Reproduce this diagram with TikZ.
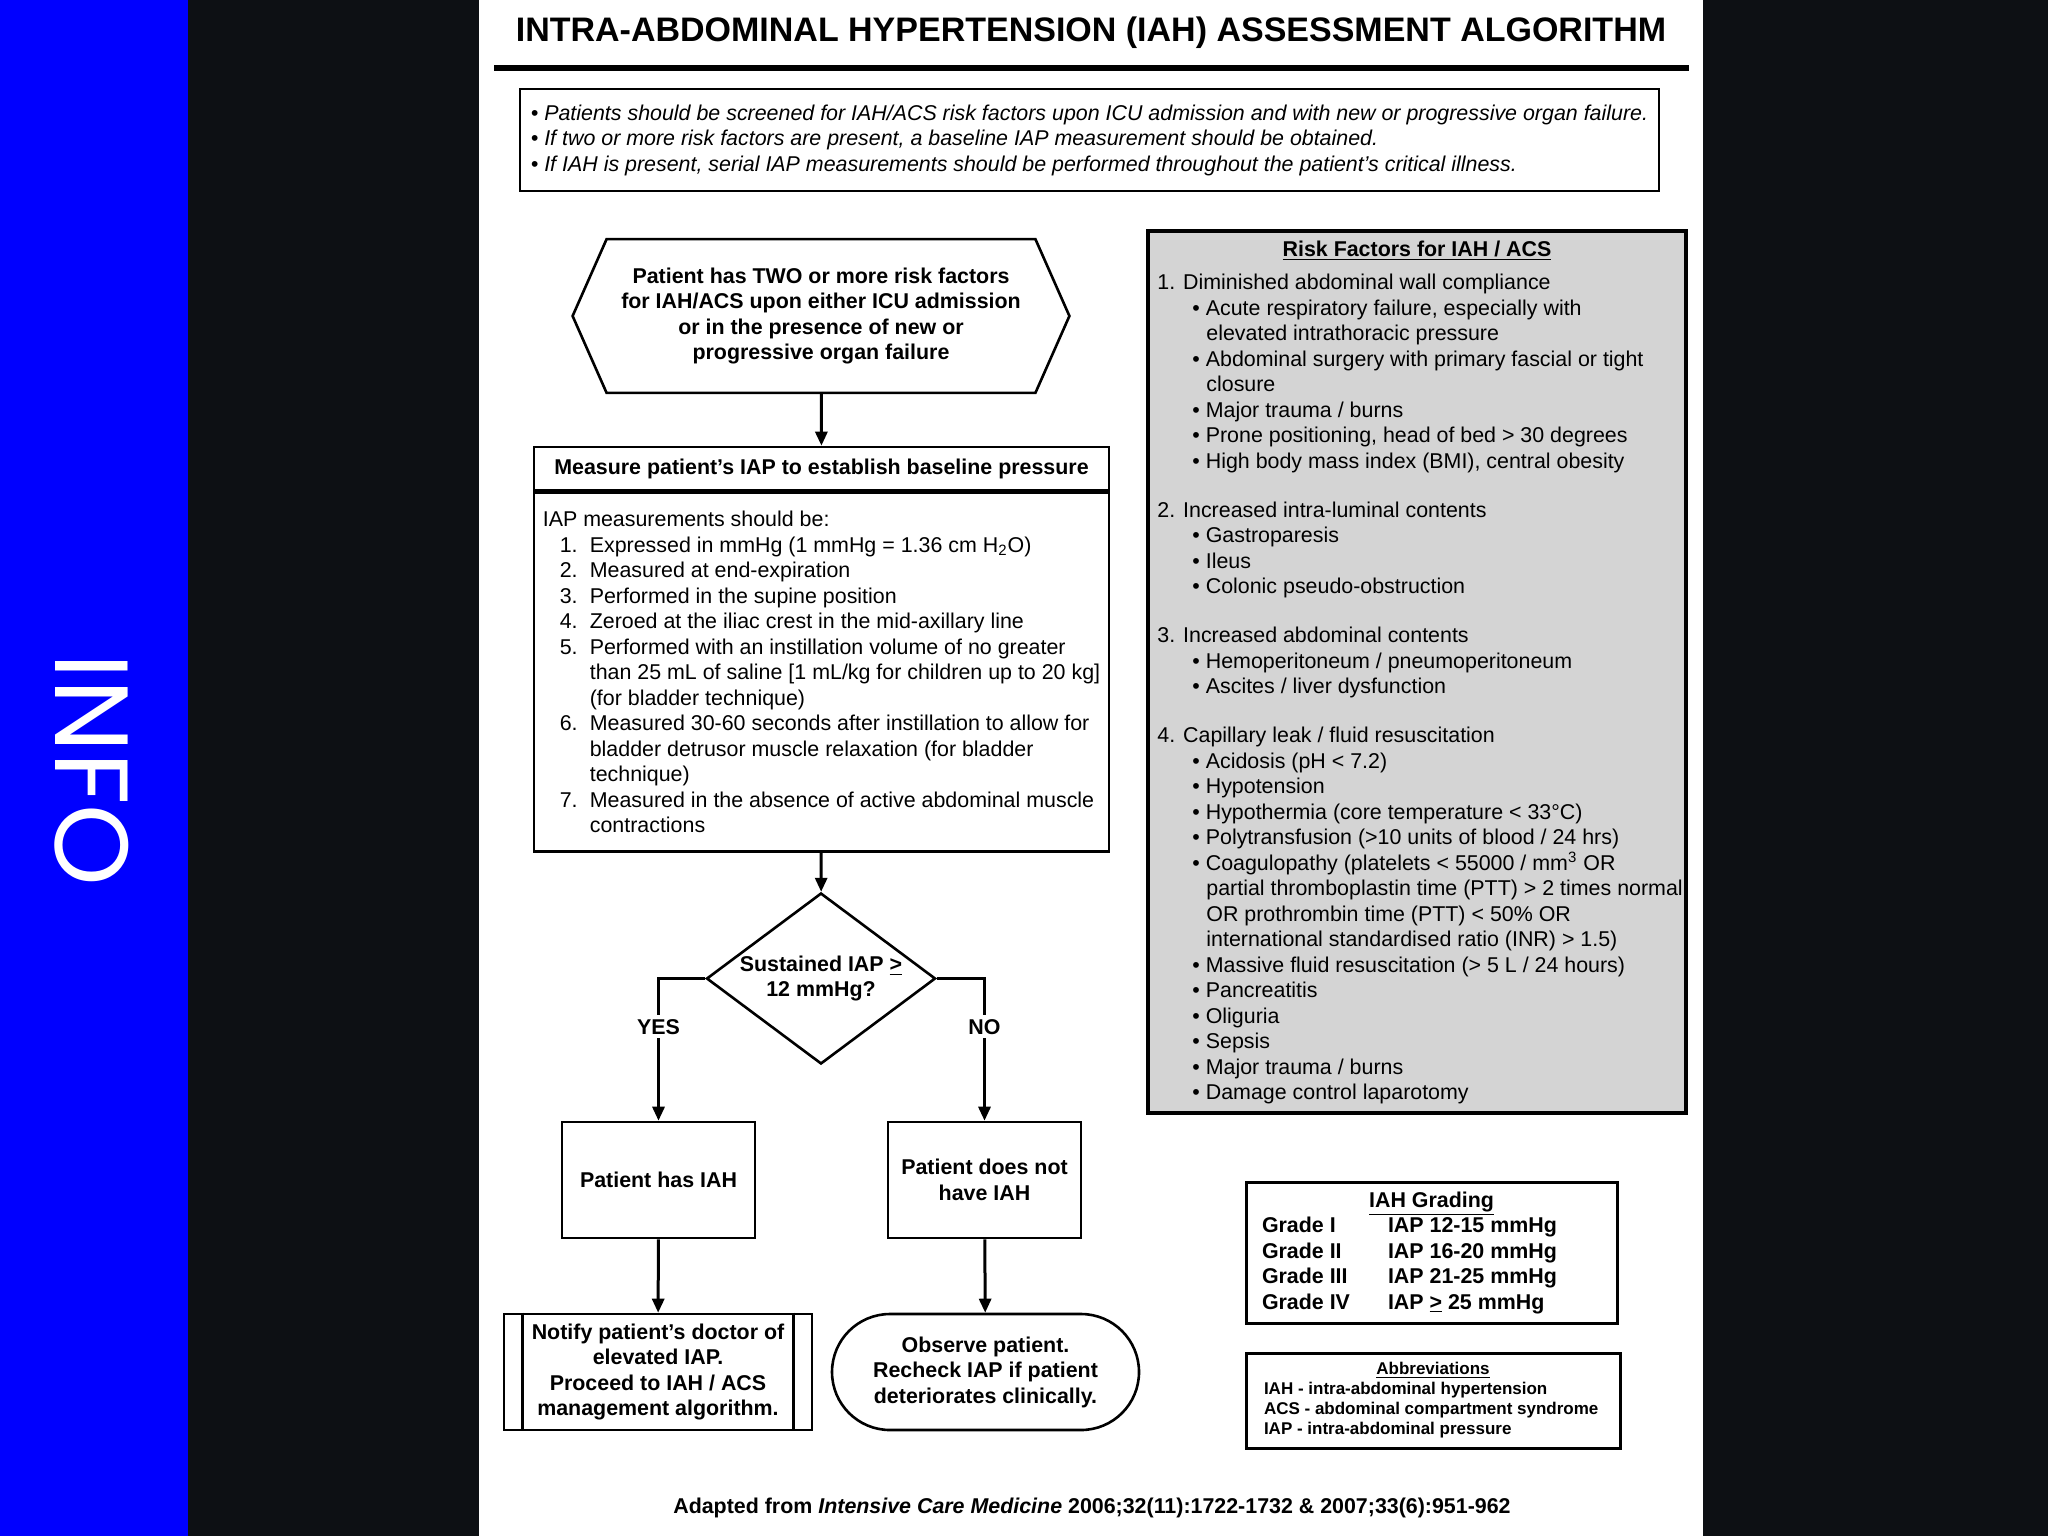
\documentclass[tikz,border=0pt]{standalone}
\usepackage{fontspec}
\setmainfont{Liberation Sans}
\newfontfamily\infofont{Poppins}
\usetikzlibrary{arrows.meta, positioning, shapes.geometric}
\definecolor{slideBlue}{HTML}{0000FF}
\definecolor{slideDark}{HTML}{0D1014}
\definecolor{riskGray}{HTML}{D4D4D4}
\newcommand{\bodyfont}{\fontsize{10.7}{12.75}\selectfont}
\newcommand{\abbrfont}{\fontsize{8.5}{10}\selectfont\bfseries}
\newcommand{\iapitem}[2]{\hspace*{8.5pt}\makebox[15pt][l]{#1.}#2}
\newcommand{\iapcont}[1]{\hspace*{23.5pt}#1}
\newcommand{\rfbul}[1]{\hspace*{17.5pt}\textbullet\ #1}
\newcommand{\rfcont}[1]{\hspace*{24.5pt}#1}
\newcommand{\gradeline}[2]{\makebox[63pt][l]{#1}#2}
\tikzset{
  >={Triangle[length=7pt, width=6pt]},
  flow/.style={->, line width=1.5pt},
  fbox/.style={draw, line width=1.3pt, fill=white, align=center,
    font=\bodyfont\bfseries, inner sep=0pt},
  hexbox/.style={align=center, font=\bodyfont\bfseries, inner sep=0pt,
    minimum width=214pt, minimum height=76.5pt},
  headbox/.style={fbox, minimum width=287.5pt, minimum height=21.5pt},
  listbox/.style={fbox, font=\bodyfont, align=left,
    minimum width=287.5pt, minimum height=179.5pt},
  decision/.style={diamond, draw, line width=1.3pt, aspect=1.34,
    align=center, font=\bodyfont\bfseries, inner sep=0pt,
    minimum width=114.5pt, minimum height=85.5pt},
  resultbox/.style={fbox, minimum width=96.5pt, minimum height=58pt},
  lbl/.style={font=\bodyfont\bfseries, fill=white, inner sep=2pt},
  riskbox/.style={draw, line width=2pt, fill=riskGray,
    minimum width=269pt, minimum height=441pt},
  legendbox/.style={draw, line width=1.5pt, fill=white, align=left,
    inner sep=0pt},
}

\begin{document}
\begin{tikzpicture}[x=0.5pt, y=-0.5pt]
  \useasboundingbox (0,0) rectangle (2048,1536);

  % ---- Slide background ---------------------------------------------------
  \fill[slideDark] (0,0) rectangle (2048,1536);
  \fill[slideBlue] (0,0) rectangle (188,1536);
  \fill[white] (479,0) rectangle (1703,1536);
  \node[rotate=-90, text=white, font=\infofont\fontsize{52}{52}\selectfont,
        inner sep=0pt] (info) at (92,770) {INFO};

  % ---- Heading and notes --------------------------------------------------
  \node[font=\fontsize{17}{20}\selectfont\bfseries] (title) at (1091,33)
    {INTRA-ABDOMINAL HYPERTENSION (IAH) ASSESSMENT ALGORITHM};
  \draw[line width=3pt] (494,68) -- (1689,68);

  \node[draw, line width=1.2pt, align=left, inner sep=0pt,
        font=\fontsize{10.7}{12.75}\selectfont\itshape,
        minimum width=569.5pt, minimum height=51pt] (screen) at (1089.5,140)
    {\textbullet\ Patients should be screened for IAH/ACS risk factors upon ICU admission and with new or progressive organ failure.\\
     \textbullet\ If two or more risk factors are present, a baseline IAP measurement should be obtained.\\
     \textbullet\ If IAH is present, serial IAP measurements should be performed throughout the patient’s critical illness.};

  % ---- Entry and measurement ---------------------------------------------
  \node[hexbox] (start) at (821,316)
    {Patient has TWO or more risk factors\\for IAH/ACS upon either ICU admission\\or in the presence of new or\\progressive organ failure};
  \draw[line width=1.3pt] (start.north west) -- (start.north east)
    -- ([xshift=17pt]start.east) -- (start.south east)
    -- (start.south west) -- ([xshift=-17pt]start.west) -- cycle;

  \node[headbox] (meashead) at (821.5,468.5)
    {Measure patient’s IAP to establish baseline pressure};
  \node[listbox, below=0pt of meashead] (measbody)
    {IAP measurements should be:\\
     \iapitem{1}{Expressed in mmHg (1 mmHg = 1.36 cm H\textsubscript{2}O)}\\
     \iapitem{2}{Measured at end-expiration}\\
     \iapitem{3}{Performed in the supine position}\\
     \iapitem{4}{Zeroed at the iliac crest in the mid-axillary line}\\
     \iapitem{5}{Performed with an instillation volume of no greater}\\
     \iapcont{than 25 mL of saline [1 mL/kg for children up to 20 kg]}\\
     \iapcont{(for bladder technique)}\\
     \iapitem{6}{Measured 30-60 seconds after instillation to allow for}\\
     \iapcont{bladder detrusor muscle relaxation (for bladder}\\
     \iapcont{technique)}\\
     \iapitem{7}{Measured in the absence of active abdominal muscle}\\
     \iapcont{contractions}};

  \draw[flow] (start) -- (meashead);

  % ---- Decision and outcomes ----------------------------------------------
  \node[decision] (decide) at (821,978.5) {Sustained IAP \underline{>}\\12 mmHg?};
  \node[resultbox] (hasiah) at (658.5,1180) {Patient has IAH};
  \node[resultbox] (noiah)  at (984.5,1180) {Patient does not\\have IAH};

  \node[fbox, minimum width=154pt, minimum height=58pt] (notify) at (658,1372)
    {Notify patient’s doctor of\\elevated IAP.\\Proceed to IAH / ACS\\management algorithm.};
  \draw[line width=1.3pt] ([xshift=10pt]notify.north west) -- ([xshift=10pt]notify.south west);
  \draw[line width=1.3pt] ([xshift=-10pt]notify.north east) -- ([xshift=-10pt]notify.south east);
  \node[fbox, rounded corners=29pt, minimum width=153.5pt, minimum height=58pt]
    (observe) at (985.5,1372)
    {Observe patient.\\Recheck IAP if patient\\deteriorates clinically.};

  \draw[flow] (measbody) -- (decide);
  \draw[flow] (decide.west) -| (hasiah.north) node[lbl, pos=0.67] {YES};
  \draw[flow] (decide.east) -| (noiah.north) node[lbl, pos=0.67] {NO};
  \draw[flow] (hasiah) -- (notify);
  \draw[flow] (noiah) -- (observe);

  % ---- Risk factor panel --------------------------------------------------
  \node[riskbox] (risk) at (1417,672) {};
  \node[font=\bodyfont\bfseries, inner sep=0pt] (risktitle) at (1417,251)
    {\underline{Risk Factors for IAH / ACS}};
  \node[font=\bodyfont, align=left, inner sep=0pt, anchor=west] (risklist) at (1157,689)
    {1. Diminished abdominal wall compliance\\
     \rfbul{Acute respiratory failure, especially with}\\
     \rfcont{elevated intrathoracic pressure}\\
     \rfbul{Abdominal surgery with primary fascial or tight}\\
     \rfcont{closure}\\
     \rfbul{Major trauma / burns}\\
     \rfbul{Prone positioning, head of bed > 30 degrees}\\
     \rfbul{High body mass index (BMI), central obesity}\\[11.75pt]
     2. Increased intra-luminal contents\\
     \rfbul{Gastroparesis}\\
     \rfbul{Ileus}\\
     \rfbul{Colonic pseudo-obstruction}\\[11.75pt]
     3. Increased abdominal contents\\
     \rfbul{Hemoperitoneum / pneumoperitoneum}\\
     \rfbul{Ascites / liver dysfunction}\\[11.75pt]
     4. Capillary leak / fluid resuscitation\\
     \rfbul{Acidosis (pH < 7.2)}\\
     \rfbul{Hypotension}\\
     \rfbul{Hypothermia (core temperature < 33°C)}\\
     \rfbul{Polytransfusion (>10 units of blood / 24 hrs)}\\
     \rfbul{Coagulopathy (platelets < 55000 / mm\textsuperscript{3} OR}\\
     \rfcont{partial thromboplastin time (PTT) > 2 times normal}\\
     \rfcont{OR prothrombin time (PTT) < 50\% OR}\\
     \rfcont{international standardised ratio (INR) > 1.5)}\\
     \rfbul{Massive fluid resuscitation (> 5 L / 24 hours)}\\
     \rfbul{Pancreatitis}\\
     \rfbul{Oliguria}\\
     \rfbul{Sepsis}\\
     \rfbul{Major trauma / burns}\\
     \rfbul{Damage control laparotomy}};

  % ---- Grading and abbreviations -----------------------------------------
  \node[legendbox, font=\bodyfont\bfseries, minimum width=185.5pt,
        minimum height=70.5pt] (grading) at (1431.5,1252.5)
    {\makebox[169.5pt][c]{\underline{IAH Grading}}\\
     \gradeline{Grade I}{IAP 12-15 mmHg}\\
     \gradeline{Grade II}{IAP 16-20 mmHg}\\
     \gradeline{Grade III}{IAP 21-25 mmHg}\\
     \gradeline{Grade IV}{IAP \underline{>} 25 mmHg}};
  \node[legendbox, font=\abbrfont, minimum width=187pt,
        minimum height=47.5pt] (abbrev) at (1433,1400.5)
    {\makebox[169pt][c]{\underline{Abbreviations}}\\
     IAH - intra-abdominal hypertension\\
     ACS - abdominal compartment syndrome\\
     IAP - intra-abdominal pressure};

  % ---- Source -------------------------------------------------------------
  \node[font=\bodyfont\bfseries] (source) at (1092,1508)
    {Adapted from \textit{Intensive Care Medicine} 2006;32(11):1722-1732 \& 2007;33(6):951-962};

\end{tikzpicture}
\end{document}
